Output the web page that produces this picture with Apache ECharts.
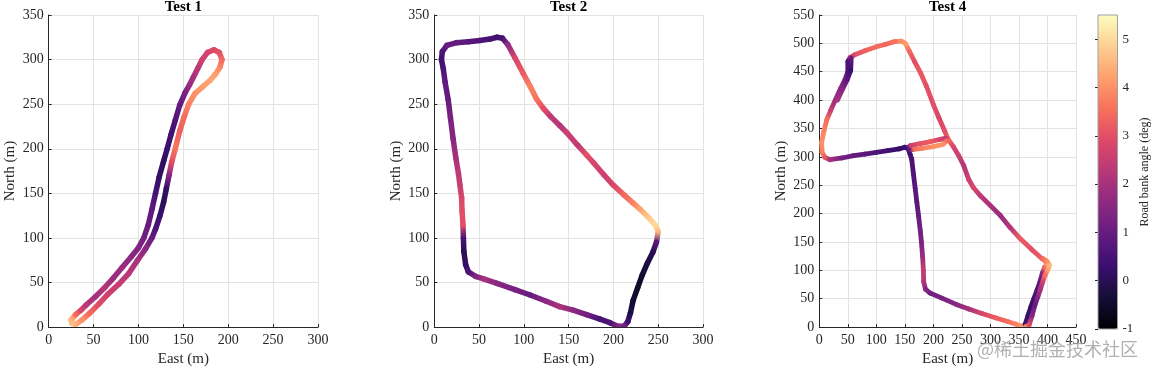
<!DOCTYPE html>
<html><head><meta charset="utf-8">
<script src="https://cdn.jsdelivr.net/npm/echarts@6/dist/echarts.min.js"></script>
<style>html,body{margin:0;padding:0;background:#fff}#c{width:1152px;height:372px}</style>
</head><body><div id="c"></div>
<script>
// ---- data: [east (m), north (m), road bank angle (deg)] ----
const test1TrackA = [[26,9,4.3],[30,14,3.5],[36,19,2.8],[42,25,2.3],[52,34,2.0],[62,44,2.2],[72,55,1.8],[82,67,1.8],[92,79,1.6],[100,89,1.4],[106,100,1.2],[111,115,1.0],[115,132,0.9],[119,150,0.5],[123,168,0.2],[128,186,0.1],[132,200,0.3],[136,215,0.4],[141,232,0.6],[146,249,0.9],[152,263,1.3],[157,272,1.8],[161,280,2.0],[166,290,2.3],[171,300,2.6],[177,308,2.7],[184,311,2.9],[190,308,3.0],[193,300,3.4]];
const test1TrackB = [[193,300,3.4],[191,292,3.8],[186,284,4.2],[180,277,4.3],[172,270,4.2],[163,262,4.0],[156,250,3.8],[151,236,3.5],[146,220,3.3],[141,200,3.6],[137,185,3.0],[134,170,1.5],[131,155,0.2],[128,140,0.0],[124,125,0.3],[119,110,0.6],[115,100,1.0],[108,88,1.6],[99,75,2.0],[89,60,2.3],[78,48,2.5],[66,37,2.6],[56,26,2.9],[46,16,3.4],[37,8,4.0],[30,3,4.4],[26,4,4.6],[25,8,4.5],[26,9,4.3]];

const test2Loop = [[8,300,0.4],[9,309,0.6],[14,316,1.0],[25,319,1.0],[38,320,0.8],[51,321.5,0.6],[62,323,0.5],[70,325,0.4],[76,324,0.5],[82,317,1.6],[90,302,2.8],[99,285,3.2],[107,270,3.8],[114,256,3.6],[122,245,3.0],[130,236,2.4],[140,226,2.2],[148,218,2.6],[160,204,2.4],[170,193,3.0],[178,184,2.8],[190,170,2.6],[200,159,2.8],[212,148,3.4],[222,139,3.8],[230,132,4.3],[240,122,4.8],[247,114,5.0],[250,107,4.6],[248,95,0.8],[244,84,0.0],[238,72,-0.2],[232,58,-0.4],[227,44,-0.5],[222,30,-0.4],[219,16,-0.2],[216,6,0.3],[212,1,1.2],[205,1,1.5],[196,5,0.6],[185,9,0.5],[170,14,1.2],[155,19,1.6],[140,23,2.0],[125,29,1.6],[107,36,1.0],[90,42,1.3],[70,49,1.5],[55,54,2.0],[46,57,1.4],[38,62,0.6],[35,70,0.2],[33,85,0.0],[32.5,100,0.5],[32,115,3.0],[31,130,3.0],[30.5,145,2.8],[28.5,160,2.5],[27,172,2.4],[24,190,2.0],[21,211,1.5],[18,235,1.3],[15.5,255,1.0],[12,275,0.9],[10,290,0.6],[8,300,0.4]];

const test4Main = [[156,314,0.4],[159,305,0.4],[162,296,0.5],[165,270,0.6],[168,245,0.8],[171,220,0.8],[174,196,1.0],[177,170,1.2],[179,150,1.3],[181,125,1.8],[182.5,100,2.5],[183,80,2.2],[186,67,1.5],[194,60,1.2],[215,51,1.3],[240,40,1.5],[262,32,2.0],[285,24,2.8],[310,16,3.2],[330,10,3.5],[345,5,3.8],[357,1,4.2],[361,5,0.5],[366,21,0.2],[371,36,0.2],[376,50,0.4],[382,66,0.6],[387,80,0.8],[391,95,1.5],[395,106,3.5],[403,109,4.5],[396,116,3.5],[390,121,3.2],[372,137,3.0],[352,156,3.2],[334,176,2.2],[317,197,1.8],[300,214,2.0],[282,232,2.4],[270,246,2.8],[262,260,2.6],[253,285,2.2],[244,303,2.6],[235,318,2.8],[226,331,3.4],[220,345,3.0],[210,368,2.8],[200,392,3.0],[188,424,3.0],[178,447,3.2],[167,468,3.0],[158,486,3.4],[151,500,4.2],[144,504,4.0],[132,503,3.6],[115,498,3.4],[100,494,3.5],[80,487,3.3],[62,480,3.0],[54,475,2.0],[50,468,0.5],[50,450,0.6],[45,436,1.2],[37,420,1.6],[28,400,1.8],[20,382,2.5],[13,365,3.5],[8,345,3.8],[4,325,4.0],[5,308,3.8],[10,299,3.2],[19,295,2.0],[40,298,1.2],[60,302,1.0],[80,305,0.8],[100,308,0.6],[120,311,0.4],[140,314,0.2],[150,317,0.3],[156,314,0.4]];
const test4RightOuter = [[362,1,4.0],[368,4,3.0],[373,20,1.5],[378,39,1.0],[383,53,1.5],[387,65,2.0],[391,78,2.5],[395.7,91.6,3.5],[401,102,4.2],[404,109,4.6],[399,116,4.0],[392,121,3.5]];
const test4LeftInner = [[56,474,1.0],[55,452,0.3],[49,436,0.8],[40,418,1.5],[32,400,2.0]];
const test4Spur = [[156,317,0.8],[160,320,2.5],[175,323,3.0],[195,327,3.2],[212,331,2.8],[222,333,2.5],[223,328,3.5],[217,322,4.0],[200,318,4.0],[180,315,3.8],[165,313,3.5],[159,312,1.0]];

const panelTitles = ['Test 1', 'Test 2', 'Test 4'];
const eastMax = [300, 300, 450];
const northMax = [350, 350, 550];
const tickStep = 50;
const bankMin = -1, bankMax = 5.5, bankStep = 1;
const magma = ['#000004','#140e36','#3b0f70','#641a80','#8c2981','#b73779','#de4968','#f7705c','#fe9f6d','#fecf92','#fcfdbf'];

// ---- build ----
function bankColor(v) {
  const t = Math.max(0, Math.min(1, (v - bankMin) / (bankMax - bankMin)));
  return echarts.color.lerp(t, magma);
}
function toSegments(track) {
  const out = [];
  for (let i = 1; i < track.length; i++) {
    const a = track[i - 1], b = track[i];
    out.push([a[0], a[1], b[0], b[1], a[2], b[2]]);
  }
  return out;
}
function makeRender(width) {
  return function (params, api) {
    const p0 = api.coord([api.value(0), api.value(1)]);
    const p1 = api.coord([api.value(2), api.value(3)]);
    const c0 = bankColor(api.value(4)), c1 = bankColor(api.value(5));
    return {
      type: 'line',
      shape: { x1: p0[0], y1: p0[1], x2: p1[0], y2: p1[1] },
      style: {
        stroke: { type: 'linear', x: p0[0], y: p0[1], x2: p1[0] + 0.01, y2: p1[1] + 0.01, global: true,
          colorStops: [{ offset: 0, color: c0 }, { offset: 1, color: c1 }] },
        lineWidth: width, lineCap: 'round', fill: null
      }
    };
  };
}
const serif = '"Liberation Serif", "Times New Roman", serif';
const ink = '#262626';
const grids = [
  { left: 48.7, top: 15, width: 269.3, height: 314 },
  { left: 434.3, top: 15, width: 268.7, height: 314 },
  { left: 819.3, top: 15, width: 256.7, height: 314 },
  { left: 1098, top: 15, width: 19.5, height: 314, show: true, borderColor: '#a0a0a0', borderWidth: 1, backgroundColor: 'transparent', z: 10 }
];
const xAxes = [], yAxes = [];
for (let i = 0; i < 3; i++) {
  xAxes.push({
    gridIndex: i, type: 'value', min: 0, max: eastMax[i], interval: tickStep,
    name: 'East (m)', nameLocation: 'middle', nameGap: 23,
    nameTextStyle: { fontFamily: serif, fontSize: 15, color: ink },
    axisLine: { show: true, onZero: false, lineStyle: { color: ink, width: 1 } },
    axisTick: { show: true, inside: true, length: 3, lineStyle: { color: ink } },
    axisLabel: { fontFamily: serif, fontSize: 14, color: ink, margin: 6 },
    splitLine: { show: true, lineStyle: { color: '#e3e3e3', width: 1 } }
  });
  yAxes.push({
    gridIndex: i, type: 'value', min: 0, max: northMax[i], interval: tickStep,
    name: 'North (m)', nameLocation: 'middle', nameGap: 31, nameRotate: 90,
    nameTextStyle: { fontFamily: serif, fontSize: 15, color: ink },
    axisLine: { show: true, onZero: false, lineStyle: { color: ink, width: 1 } },
    axisTick: { show: true, inside: true, length: 3, lineStyle: { color: ink } },
    axisLabel: { fontFamily: serif, fontSize: 14, color: ink, margin: 5 },
    splitLine: { show: true, lineStyle: { color: '#e3e3e3', width: 1 } }
  });
}
xAxes.push({ gridIndex: 3, type: 'value', show: false, min: 0, max: 1 });
yAxes.push({
  gridIndex: 3, type: 'value', position: 'right', min: bankMin, max: bankMax, interval: bankStep,
  name: 'Road bank angle (deg)', nameLocation: 'middle', nameGap: 21, nameRotate: 90,
  nameTextStyle: { fontFamily: serif, fontSize: 12, color: ink },
  axisLine: { show: false },
  axisTick: { show: true, inside: true, length: 3, lineStyle: { color: ink } },
  axisLabel: { fontFamily: serif, fontSize: 13, color: ink, margin: 5, showMaxLabel: false },
  splitLine: { show: false }
});

const tracksByPanel = [
  [test1TrackA, test1TrackB],
  [test2Loop],
  [test4Main, test4RightOuter, test4LeftInner, test4Spur]
];
const widths = [5.5, 5.5, 4.8];
const series = [];
tracksByPanel.forEach((tracks, i) => {
  tracks.forEach(tr => {
    series.push({
      type: 'custom', xAxisIndex: i, yAxisIndex: i, renderItem: makeRender(widths[i]),
      data: toSegments(tr), silent: true, clip: true,
      encode: { x: [0, 2], y: [1, 3] }
    });
  });
});

const graphics = panelTitles.map((t, i) => ({
  type: 'text', x: grids[i].left + grids[i].width / 2, y: 7,
  style: { text: t, font: 'bold 15px ' + serif, fill: '#000', textAlign: 'center', textVerticalAlign: 'middle' }
}));
graphics.push({
  type: 'text', x: 977, y: 349, z: 100,
  style: { text: '@稀土掘金技术社区', font: '18px "Noto Sans CJK SC"', fill: 'rgba(150,150,150,0.75)', textVerticalAlign: 'middle' }
});

const chart = echarts.init(document.getElementById('c'), null, { renderer: 'canvas' });
chart.setOption({
  animation: false,
  backgroundColor: '#fff',
  grid: grids,
  xAxis: xAxes,
  yAxis: yAxes,
  visualMap: {
    type: 'continuous', min: bankMin, max: bankMax, dimension: 4, seriesIndex: [0],
    calculable: false, show: true, left: 1098, top: 15, itemWidth: 19.5, itemHeight: 314,
    padding: 0, text: null, orient: 'vertical', hoverLink: false, z: 1,
    inRange: { color: magma }
  },
  graphic: graphics,
  series: series
});
</script></body></html>
